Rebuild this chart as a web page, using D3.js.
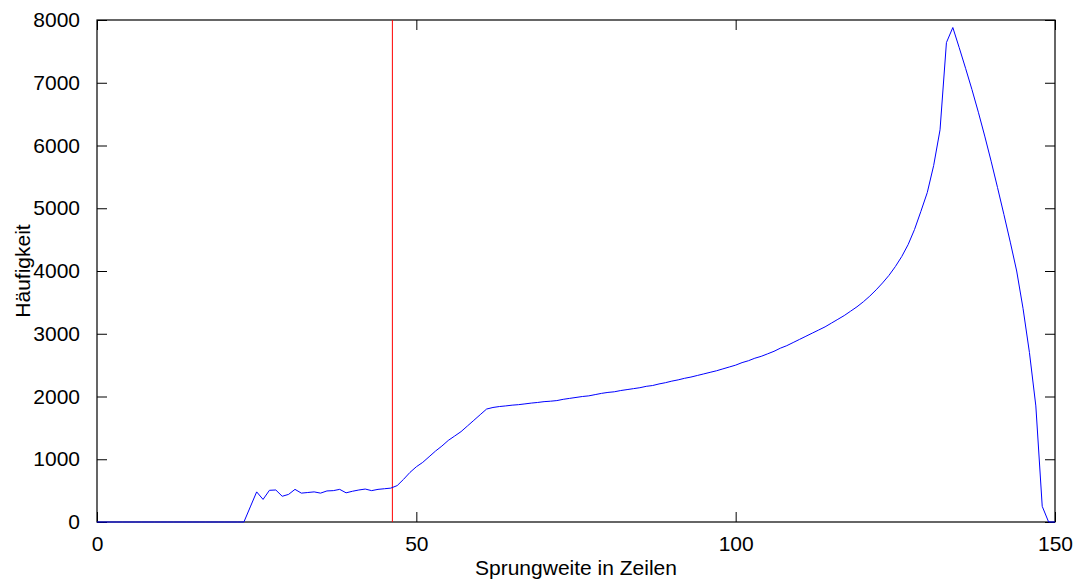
<!DOCTYPE html>
<html>
<head>
<meta charset="utf-8">
<script src="https://cdn.jsdelivr.net/npm/d3@7"></script>
<style>
  body { margin: 0; background: #fff; }
  svg text { font-family: "Liberation Sans", Arial, sans-serif; fill: #000; }
</style>
</head>
<body>
<svg id="chart"></svg>
<script>
// Häufigkeit je Sprungweite (x = 0..150)
const xValues = d3.range(0, 151);
const counts = [
    0, 0, 0, 0, 0, 0, 0, 0, 0, 0,
    0, 0, 0, 0, 0, 0, 0, 0, 0, 0,
    0, 0, 0, 0, 240, 480, 360, 505, 510, 410,
    440, 520, 460, 470, 480, 460, 495, 500, 520, 465,
    490, 510, 525, 500, 520, 530, 540, 580, 680, 790,
    880, 950, 1040, 1130, 1210, 1300, 1370, 1440, 1530, 1620,
    1710, 1800, 1825, 1840, 1850, 1862, 1870, 1882, 1895, 1905,
    1918, 1925, 1935, 1955, 1970, 1985, 2000, 2010, 2030, 2050,
    2065, 2075, 2095, 2110, 2125, 2140, 2162, 2175, 2200, 2220,
    2245, 2265, 2290, 2310, 2335, 2360, 2385, 2410, 2440, 2470,
    2500, 2540, 2570, 2610, 2640, 2680, 2720, 2770, 2810, 2860,
    2910, 2960, 3010, 3060, 3110, 3170, 3230, 3290, 3360, 3430,
    3510, 3600, 3700, 3810, 3930, 4070, 4230, 4420, 4660, 4950,
    5250, 5680, 6250, 7640, 7880, 7560, 7230, 6890, 6530, 6150,
    5750, 5330, 4900, 4460, 4000, 3400, 2700, 1850, 250, 0,
    0
];
const markerX = 46.25;
const xTicks = [0, 50, 100, 150];
const yTicks = [0, 1000, 2000, 3000, 4000, 5000, 6000, 7000, 8000];

const width = 1080, height = 581;
const margin = { top: 20, right: 25, bottom: 59, left: 97 };
const innerW = width - margin.left - margin.right;
const innerH = height - margin.top - margin.bottom;

const svg = d3.select("#chart")
    .attr("width", width)
    .attr("height", height);

const g = svg.append("g")
    .attr("transform", `translate(${margin.left},${margin.top})`);

const x = d3.scaleLinear().domain([0, 150]).range([0, innerW]);
const y = d3.scaleLinear().domain([0, 8000]).range([innerH, 0]);

// ticks inward, mirrored on all four sides
g.append("g")
    .attr("transform", `translate(0,${innerH})`)
    .call(d3.axisBottom(x).tickValues(xTicks).tickFormat(d3.format("d"))
        .tickSizeInner(-10).tickSizeOuter(0).tickPadding(14))
    .call(a => a.select(".domain").remove())
    .selectAll("text").style("font-size", "21px");

g.append("g")
    .call(d3.axisTop(x).tickValues(xTicks).tickSizeInner(-10).tickSizeOuter(0).tickFormat(""))
    .call(a => a.select(".domain").remove());

g.append("g")
    .call(d3.axisLeft(y).tickValues(yTicks).tickFormat(d3.format("d"))
        .tickSizeInner(-10).tickSizeOuter(0).tickPadding(17))
    .call(a => a.select(".domain").remove())
    .selectAll("text").style("font-size", "21px");

g.append("g")
    .attr("transform", `translate(${innerW},0)`)
    .call(d3.axisRight(y).tickValues(yTicks).tickSizeInner(-10).tickSizeOuter(0).tickFormat(""))
    .call(a => a.select(".domain").remove());

g.selectAll(".tick line").attr("stroke", "#000");

// box
g.append("rect")
    .attr("width", innerW)
    .attr("height", innerH)
    .attr("fill", "none")
    .attr("stroke", "#000")
    .attr("stroke-width", 1.2);

// red marker line
g.append("line")
    .attr("x1", x(markerX)).attr("x2", x(markerX))
    .attr("y1", 0).attr("y2", innerH)
    .attr("stroke", "#ff0000")
    .attr("stroke-width", 1);

const line = d3.line()
    .x((d, i) => x(xValues[i]))
    .y(d => y(d));

g.append("path")
    .datum(counts)
    .attr("d", line)
    .attr("fill", "none")
    .attr("stroke", "#0000ff")
    .attr("stroke-width", 1);

// axis labels
svg.append("text")
    .attr("x", margin.left + innerW / 2)
    .attr("y", 575)
    .attr("text-anchor", "middle")
    .style("font-size", "21px")
    .text("Sprungweite in Zeilen");

svg.append("text")
    .attr("transform", `translate(30,${margin.top + innerH / 2}) rotate(-90)`)
    .attr("text-anchor", "middle")
    .style("font-size", "21px")
    .text("Häufigkeit");
</script>
</body>
</html>
